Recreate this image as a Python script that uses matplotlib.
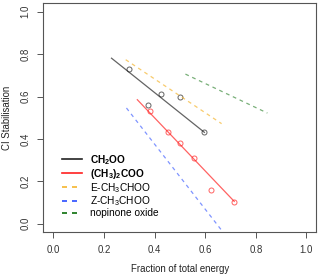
import matplotlib
matplotlib.use("Agg")
import matplotlib.pyplot as plt
from matplotlib.lines import Line2D

plt.rcParams['font.family'] = ['Liberation Sans', 'DejaVu Sans']
plt.rcParams['mathtext.fontset'] = 'custom'
plt.rcParams['mathtext.rm'] = 'Liberation Sans'
plt.rcParams['mathtext.bf'] = 'Liberation Sans:bold'

# measured points
ch2oo_x = [0.299, 0.374, 0.427, 0.499, 0.597]
ch2oo_y = [0.731, 0.561, 0.612, 0.600, 0.431]
dmcoo_x = [0.383, 0.453, 0.499, 0.555, 0.624, 0.713]
dmcoo_y = [0.533, 0.431, 0.381, 0.310, 0.160, 0.100]

# fitted lines (end points)
ch2oo_fit_x = [0.230, 0.597]
ch2oo_fit_y = [0.781, 0.431]
dmcoo_fit_x = [0.332, 0.715]
dmcoo_fit_y = [0.585, 0.105]
e_fit_x = [0.286, 0.665]
e_fit_y = [0.774, 0.472]
z_fit_x = [0.289, 0.728]
z_fit_y = [0.546, -0.128]
nop_fit_x = [0.522, 0.846]
nop_fit_y = [0.706, 0.522]

labels = [r'$\mathbf{CH_2OO}$', r'$\mathbf{(CH_3)_2COO}$', r'E-CH$_3$CHOO',
          r'Z-CH$_3$CHOO', 'nopinone oxide']
colors = ['#222222', '#ff2020', '#f5b52e', '#2a4dff', '#0a6e0a']
ticks = [0.0, 0.2, 0.4, 0.6, 0.8, 1.0]

fig = plt.figure(figsize=(3.2, 2.78), dpi=100)
ax = fig.add_axes([0.135, 0.165, 0.854, 0.823])

a = 0.7
ax.plot(ch2oo_fit_x, ch2oo_fit_y, color=colors[0], lw=0.9, alpha=a)
ax.plot(ch2oo_x, ch2oo_y, 'o', mfc='none', mec=colors[0], ms=3.6, mew=0.7, alpha=a)
ax.plot(dmcoo_fit_x, dmcoo_fit_y, color=colors[1], lw=0.9, alpha=a)
ax.plot(dmcoo_x, dmcoo_y, 'o', mfc='none', mec=colors[1], ms=3.6, mew=0.7, alpha=a)
ax.plot(e_fit_x, e_fit_y, color=colors[2], lw=0.9, alpha=a, dashes=(3, 3))
ax.plot(z_fit_x, z_fit_y, color=colors[3], lw=0.9, alpha=0.6, dashes=(3, 3))
ax.plot(nop_fit_x, nop_fit_y, color=colors[4], lw=0.9, alpha=0.55, dashes=(3, 3))

ax.set_xlim(-0.04, 1.04)
ax.set_ylim(-0.04, 1.04)
ax.set_xticks(ticks)
ax.set_yticks(ticks)
ax.set_xticklabels([f'{t:.1f}' for t in ticks], fontsize=6.9, color='#333333')
ax.set_yticklabels([f'{t:.1f}' for t in ticks], fontsize=6.9, color='#333333',
                   rotation=90, va='center')
ax.tick_params(length=4, width=0.7, color='#555555', pad=5)
for s in ax.spines.values():
    s.set_color('#555555')
    s.set_linewidth(0.8)
ax.set_xlabel('Fraction of total energy', fontsize=6.9, color='#222222', labelpad=7)
ax.set_ylabel('CI Stabilisation', fontsize=6.9, color='#222222', labelpad=6)

handles = [Line2D([], [], color=colors[0], lw=1.2),
           Line2D([], [], color=colors[1], lw=1.2),
           Line2D([], [], color=colors[2], lw=1.2, dashes=(3, 3)),
           Line2D([], [], color=colors[3], lw=1.2, dashes=(3, 3)),
           Line2D([], [], color=colors[4], lw=1.2, dashes=(3, 3))]
leg = ax.legend(handles, labels, loc='lower left', bbox_to_anchor=(0.068, 0.06),
                frameon=False, fontsize=7.3, handlelength=2.0, handletextpad=0.8,
                labelspacing=0.0, borderaxespad=0, borderpad=0)

fig.savefig('out.png', dpi=100)
